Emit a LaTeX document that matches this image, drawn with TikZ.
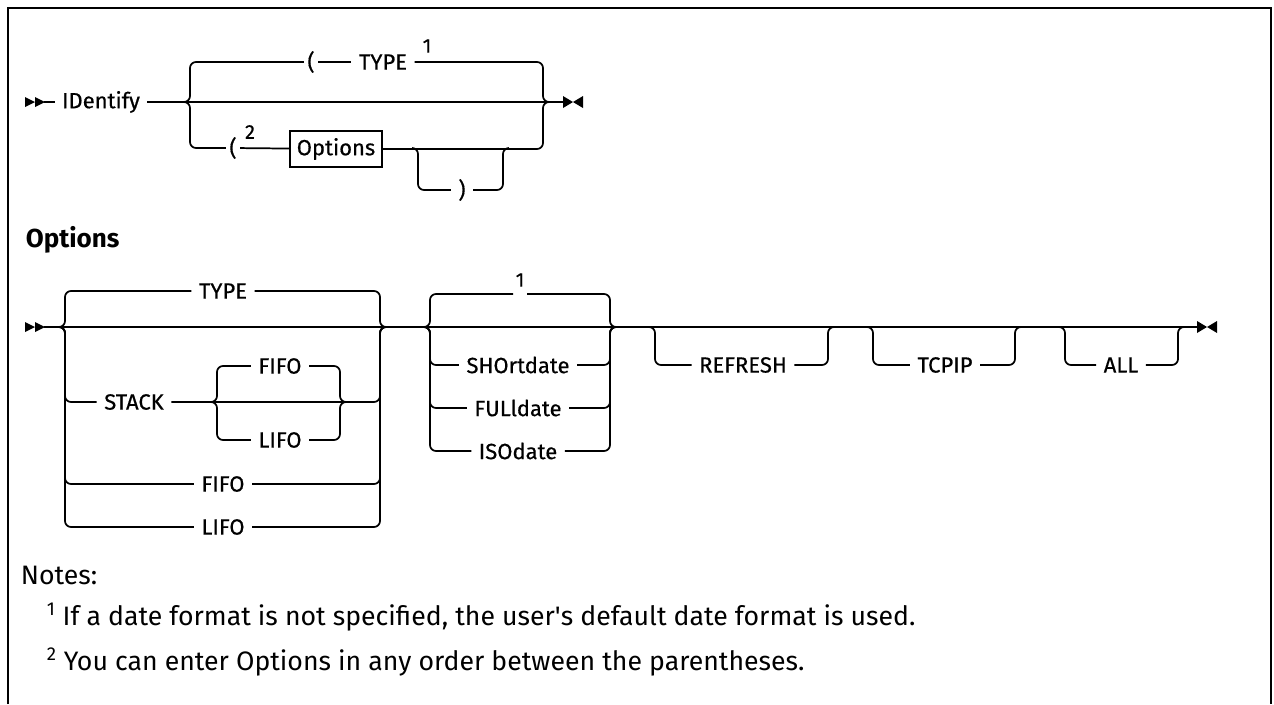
\documentclass[tikz,border=0pt]{standalone}
\usepackage{fontspec}
\setmainfont{Fira Sans}
\newfontfamily\railfont[FakeBold=0.5]{Fira Sans}
\begin{document}
\begin{tikzpicture}[x=0.75pt, y=-0.75pt, line width=1.3pt,
    kw/.style={font=\railfont\fontsize{16.5}{16.5}\selectfont, inner xsep=5pt, inner ysep=1pt},
    sup/.style={font=\railfont\fontsize{15}{15}\selectfont, inner sep=0pt},
    rail/.style={rounded corners=4.5pt},
    note/.style={font=\fontsize{20}{20}\selectfont, anchor=west, inner sep=0pt}]
  \useasboundingbox (0,0) rectangle (1274,704);
  \draw[line width=1.6pt] (8,704) -- (8,8) -- (1271,8) -- (1271,704);

  % IDentify
  \fill (25,97) -- (35,102) -- (25,107) -- cycle (35,97) -- (45,102) -- (35,107) -- cycle;
  \fill (563,96) -- (573,102) -- (563,108) -- cycle (583,96) -- (573,102) -- (583,108) -- cycle;
  \coordinate (s1) at (44,102);
  \coordinate (e1) at (564,102);
  \node[kw] (ident) at (101,102) {IDentify};
  \draw (s1) -- (ident) (ident) -- (e1);
  \coordinate (tl) at (184,102);
  \coordinate (tr) at (549,102);
  \node[kw, inner xsep=2pt] (lp1) at (311,62) {(};
  \node[kw] (ty1) at (383,62) {TYPE};
  \node[sup] (n1) at (427,46) {1};
  \draw[rail] (tl) -- (190,102) |- (lp1);
  \draw (lp1) -- (ty1);
  \draw[rail] (ty1) -| (543,102) -- (tr);
  \node[kw, inner xsep=2pt] (lp2) at (233,148) {(};
  \node[sup] (n2) at (250,132) {2};
  \node[kw, draw, line width=0.9pt, minimum width=69pt, minimum height=27pt, inner sep=0pt] (opt) at (336,149) {Options};
  \draw[rail] (tl) -- (190,102) |- (lp2);
  \draw (lp2) -- (opt);
  \draw[rail] (opt) -| (543,102) -- (tr);
  \coordinate (cl) at (412,148);
  \coordinate (cr) at (509,148);
  \node[kw] (rp) at (462,190) {)};
  \draw[rail] (cl) -- (418,148) |- (rp);
  \draw[rail] (rp) -| (503,148) -- (cr);

  % Options fragment
  \node[font=\bfseries\fontsize{19.5}{19.5}\selectfont, anchor=west, inner sep=0pt] (head) at (25,240) {Options};
  \fill (25,322) -- (35,327) -- (25,332) -- cycle (35,322) -- (45,327) -- (35,332) -- cycle;
  \fill (1197,321) -- (1207,327) -- (1197,333) -- cycle (1217,321) -- (1207,327) -- (1217,333) -- cycle;
  \coordinate (s2) at (44,327);
  \coordinate (e2) at (1198,327);
  \draw (s2) -- (e2);
  \coordinate (al) at (59,327);
  \coordinate (ar) at (386,327);
  \foreach \nm/\txt/\xx/\yy in {ta/TYPE/223/291, st/STACK/134/402, fa/FIFO/223/484, la/LIFO/223/527} {
    \node[kw] (\nm) at (\xx,\yy) {\txt};
    \draw[rail] (al) -- (65,327) |- (\nm);
    \draw[rail] (\nm) -| (380,327) -- (ar);
  }
  \coordinate (il) at (211,402);
  \coordinate (ir) at (346,402);
  \foreach \nm/\txt/\yy in {fb/FIFO/366, lb/LIFO/440} {
    \node[kw] (\nm) at (280,\yy) {\txt};
    \draw[rail] (il) -- (217,402) |- (\nm);
    \draw[rail] (\nm) -| (340,402) -- (ir);
  }
  % date format
  \coordinate (bl) at (424,327);
  \coordinate (br) at (616,327);
  \node[sup] (n3) at (520,280) {1};
  \coordinate (g1) at (513,294);
  \coordinate (g2) at (527,294);
  \draw[rail] (bl) -- (430,327) |- (g1);
  \draw[rail] (g2) -| (610,327) -- (br);
  \foreach \nm/\txt/\yy in {sd/SHOrtdate/365, fd/FULldate/408, isd/ISOdate/451} {
    \node[kw] (\nm) at (518,\yy) {\txt};
    \draw[rail] (bl) -- (430,327) |- (\nm);
    \draw[rail] (\nm) -| (610,327) -- (br);
  }
  % optional keywords
  \foreach \nm/\txt/\xa/\xx/\xb in {rf/REFRESH/655/743/828, tc/TCPIP/873/945/1015, all/ALL/1065/1121/1178} {
    \node[kw] (\nm) at (\xx,365) {\txt};
    \coordinate (\nm-in) at (\xa-6,327);
    \coordinate (\nm-out) at (\xb+6,327);
    \draw[rail] (\nm-in) -- (\xa,327) |- (\nm);
    \draw[rail] (\nm) -| (\xb,327) -- (\nm-out);
  }

  % notes
  \node[note] (notes) at (20,575) {Notes:};
  \node[note] (fn1) at (46,617) {\textsuperscript{1} If a date format is not specified, the user\textquotesingle s default date format is used.};
  \node[note] (fn2) at (46,662) {\textsuperscript{2} You can enter Options in any order between the parentheses.};
\end{tikzpicture}
\end{document}
